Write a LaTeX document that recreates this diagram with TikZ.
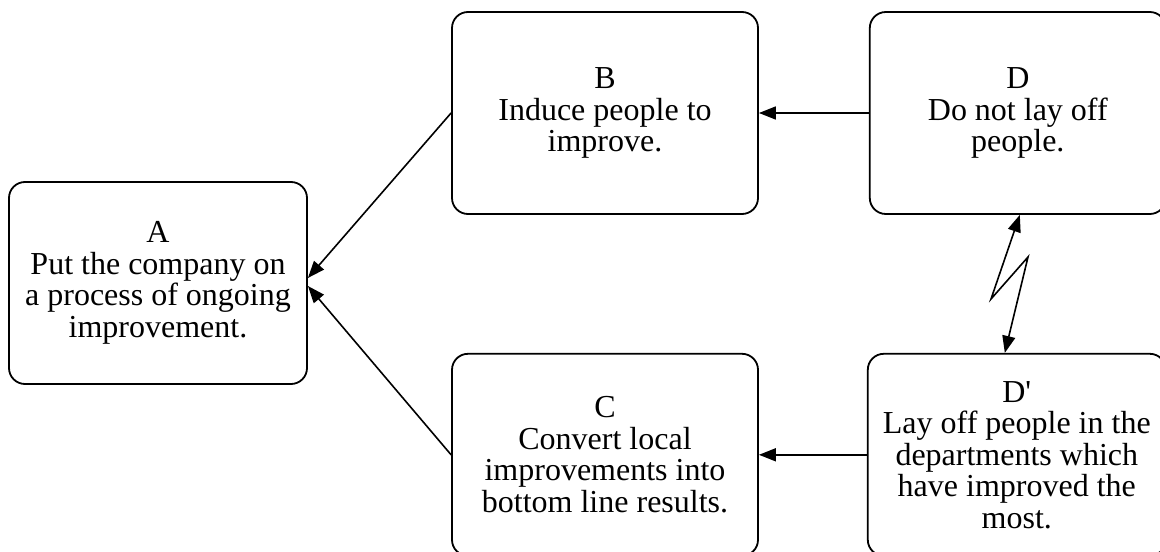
\documentclass[tikz,border=0pt]{standalone}
\usepackage{fontspec}
\setmainfont{Liberation Serif}
\usetikzlibrary{arrows.meta,positioning}
\tikzset{
    idea-box/.style = {draw, rounded corners=8pt, line width=0.9pt, align=center, inner sep=0pt, minimum height=101pt, font=\fontsize{16pt}{15.75pt}\selectfont},
    link-arrow/.style = {line width=0.8pt, -{Triangle[length=8.5pt,width=6.5pt]}},
}

\begin{document}
\begin{tikzpicture}[x=0.5pt,y=-0.5pt]
\useasboundingbox (0,0) rectangle (1160,551);
\clip (0,0) rectangle (1160,551);
\node[idea-box, minimum width=149pt] (A) at (158,283) {A\\Put the company on\\a process of ongoing\\improvement.};
\node[idea-box, minimum width=153pt] (B) at (605,113) {B\\Induce people to\\improve.};
\node[idea-box, minimum width=153pt, below=69pt of B] (C) {C\\Convert local\\improvements into\\bottom line results.};
\node[idea-box, minimum width=148pt, right=55pt of B] (D) {D\\Do not lay off\\people.};
\node[idea-box, minimum width=149pt, right=54pt of C] (Dp) {D\textquotesingle\\Lay off people in the\\departments which\\have improved the\\most.};
\draw[link-arrow] (B.west) -- ([yshift=2.5pt]A.east);
\draw[link-arrow] (C.west) -- ([yshift=-1.5pt]A.east);
\draw[link-arrow] (D.west) -- (D.west -| B.east);
\draw[link-arrow] (Dp.west) -- (Dp.west -| C.east);
% the conflict between D and D'
\coordinate (bend1) at (991,299);
\coordinate (bend2) at (1028,257);
\draw[link-arrow, {Triangle[length=8.5pt,width=6.5pt]}-{Triangle[length=8.5pt,width=6.5pt]}] ([xshift=1pt]D.south) -- (bend1) -- (bend2) -- ([xshift=-6pt]Dp.north);
\end{tikzpicture}
\end{document}
